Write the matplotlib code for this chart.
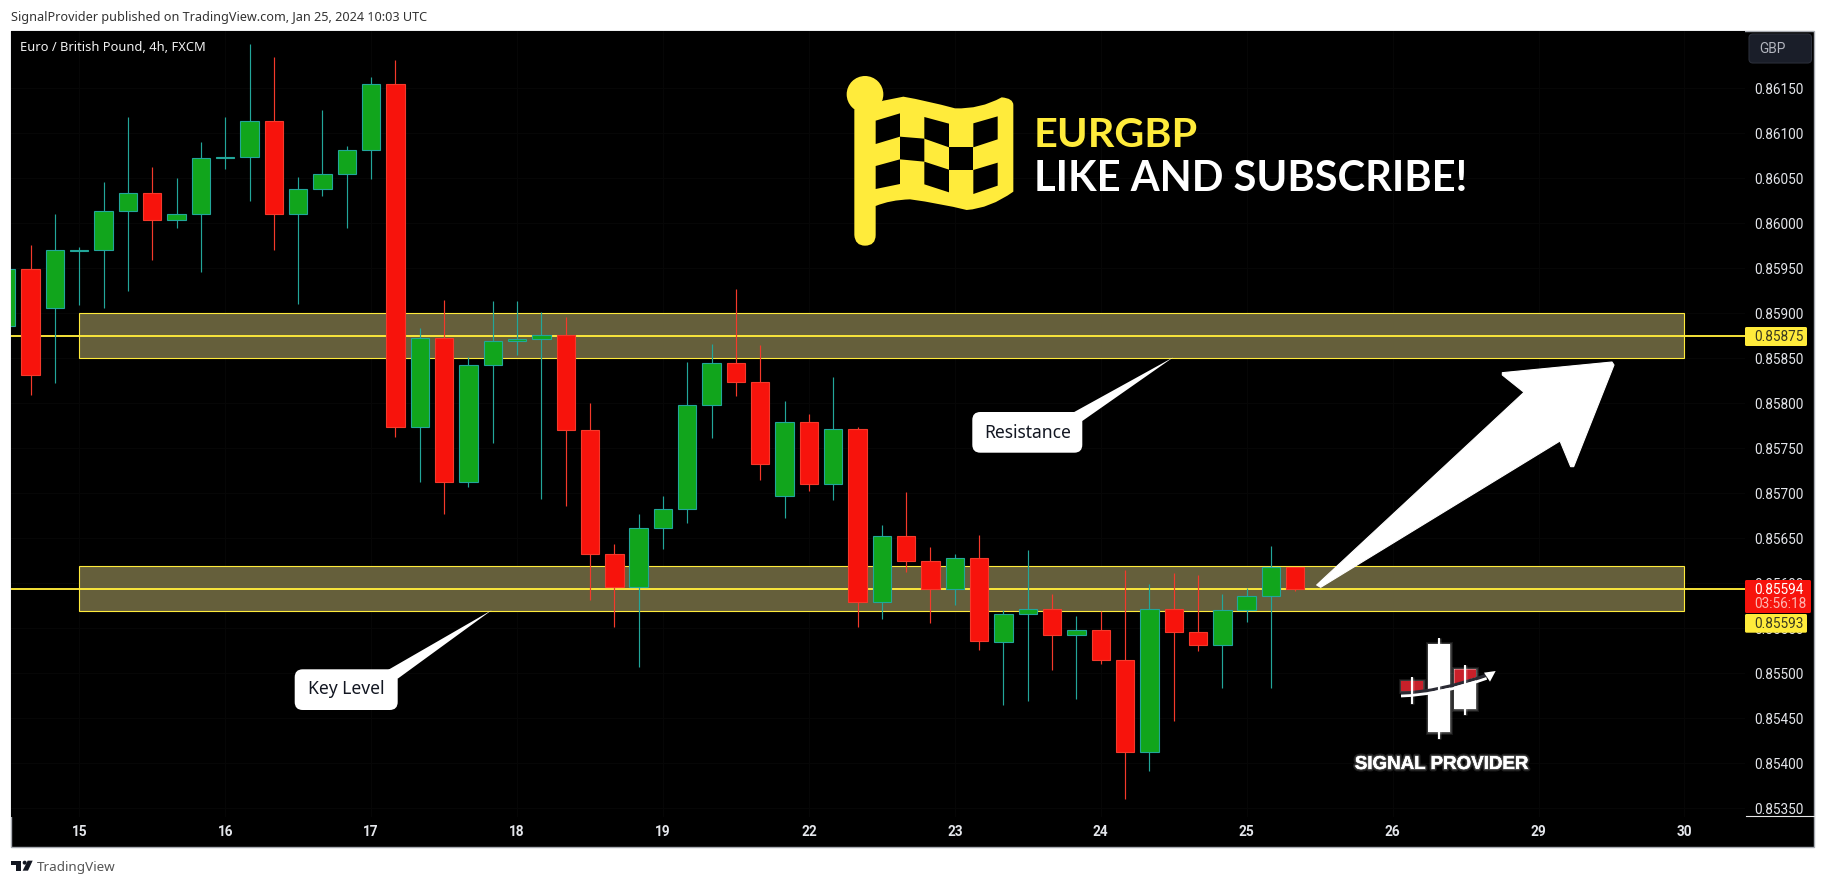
import matplotlib
matplotlib.use("Agg")
import matplotlib.pyplot as plt
import matplotlib.patheffects as pe
from matplotlib.patches import Polygon, Rectangle, FancyBboxPatch, Circle, PathPatch
from matplotlib.path import Path

# ---------- data (prices) ----------
opens = [.85886,.85949,.85906,.85969,.85970,.86013,.86034,.86004,.86010,.86072,.86074,.86113,.86010,.86038,.86055,.86081,.86155,
         .85774,.85873,.85712,.85843,.85869,.85871,.85876,.85770,.85633,.85596,.85661,.85682,.85798,.85845,.85824,.85697,.85779,.85710,.85771,.85579,.85653,.85625,.85594,.85628,
         .85535,.85566,.85572,.85543,.85548,.85515,.85413,.85572,.85546,.85531,.85570,.85586,.85618]
highs = [.85953,.85976,.86010,.85974,.86046,.86118,.86062,.86050,.86090,.86118,.86199,.86185,.86051,.86126,.86086,.86162,.86181,
         .85884,.85915,.85851,.85914,.85914,.85901,.85896,.85800,.85644,.85677,.85697,.85846,.85866,.85927,.85865,.85802,.85788,.85829,.85774,.85665,.85701,.85640,.85633,.85654,
         .85570,.85637,.85588,.85564,.85569,.85615,.85599,.85611,.85609,.85588,.85595,.85641,.85618]
lows = [.85880,.85809,.85823,.85909,.85906,.85925,.85959,.85995,.85946,.86060,.86025,.85970,.85910,.86030,.85995,.86049,.85762,
        .85712,.85677,.85707,.85756,.85854,.85694,.85686,.85582,.85552,.85507,.85638,.85667,.85761,.85808,.85715,.85672,.85703,.85692,.85551,.85560,.85613,.85556,.85576,.85526,
        .85465,.85469,.85504,.85472,.85510,.85361,.85392,.85447,.85525,.85484,.85557,.85484,.85592]
closes = [.85949,.85831,.85970,.85970,.86013,.86034,.86004,.86010,.86072,.86074,.86113,.86010,.86038,.86055,.86081,.86155,.85774,
          .85873,.85712,.85843,.85869,.85871,.85876,.85770,.85633,.85596,.85661,.85682,.85798,.85845,.85824,.85732,.85779,.85710,.85771,.85579,.85653,.85625,.85594,.85628,.85536,
          .85566,.85572,.85543,.85548,.85515,.85413,.85572,.85546,.85531,.85570,.85586,.85618,.85594]
day_ticks = [3, 9, 15, 21, 27, 33, 39, 45, 51, 57, 63, 69]
day_labels = ["15", "16", "17", "18", "19", "22", "23", "24", "25", "26", "29", "30"]
price_ticks = [.8535, .8540, .8545, .8550, .8555, .8560, .8565, .8570, .8575, .8580, .8585, .8590, .8595, .8600, .8605, .8610, .8615]
zone_x = (3, 69)
zones = [(.85850, .85900), (.85569, .85619)]
level_lines = [.85875, .85594]

# ---------- style ----------
W, H = 1826, 886
GREEN, RED = "#11A51C", "#F7130C"
TEAL, REDEDGE = "#22A69A", "#F5392B"
YEL = "#FFEB3B"
FLAG = "#FFEB3B"
FONT = "Noto Sans"
TICK = "Roboto"

fig = plt.figure(figsize=(W/100, H/100), dpi=100, facecolor="white")

# main chart pane
L, R, T, B = 11, 1745, 30.5, 816.7
ax = fig.add_axes([L/W, 1-B/H, (R-L)/W, (B-T)/H], facecolor="black", zorder=1)
ax.set_xlim(0.193, 71.49)
ax.set_ylim(0.853408, 0.862140)
for s in ax.spines.values():
    s.set_visible(False)

ax.set_xticks(day_ticks)
ax.set_xticklabels(day_labels, fontfamily=TICK, fontsize=9.8, fontweight="bold", color="#E4E6EB")
ax.yaxis.tick_right()
ax.set_yticks(price_ticks)
ax.set_yticklabels([f"{p:.5f}" for p in price_ticks], fontfamily=TICK, fontsize=9.8, color="#E4E6EB")
ax.tick_params(axis="x", length=0, pad=6.2)
ax.tick_params(axis="y", length=0, pad=6.6)
ax.grid(True, color="#070707", lw=0.7, zorder=0)
ax.set_axisbelow(True)

# zones + levels
for lo, hi in zones:
    ax.add_patch(Rectangle((zone_x[0], lo), zone_x[1]-zone_x[0], hi-lo, facecolor="#655F3B",
                           edgecolor=YEL, lw=0.8, zorder=1.5))
for lvl in level_lines:
    ax.axhline(lvl, color=YEL, lw=1.35, zorder=1.8)

# candles
xs = list(range(len(opens)))
for x, o, h, l, c in zip(xs, opens, highs, lows, closes):
    up = c >= o
    ax.vlines(x, l, h, color=TEAL if up else REDEDGE, lw=0.85, zorder=2)
up_x = [x for x in xs if closes[x] >= opens[x]]
dn_x = [x for x in xs if closes[x] < opens[x]]
ax.bar(up_x, [closes[x]-opens[x] for x in up_x], bottom=[opens[x] for x in up_x], width=0.755,
       color=GREEN, edgecolor=TEAL, lw=0.8, zorder=3)
ax.bar(dn_x, [opens[x]-closes[x] for x in dn_x], bottom=[closes[x] for x in dn_x], width=0.755,
       color=RED, edgecolor=REDEDGE, lw=0.8, zorder=3)

# backdrop for price/time axis area
bg = fig.add_axes([0, 0, 1, 1], zorder=0)
bg.set_xlim(0, W); bg.set_ylim(H, 0); bg.axis("off")
bg.add_patch(Rectangle((11, 30.5), 1803, 816.5, facecolor="black", edgecolor="#A8ABB2", lw=1.0))

# overlay in pixel coordinates for drawings
ov = fig.add_axes([0, 0, 1, 1], zorder=5)
ov.set_xlim(0, W); ov.set_ylim(H, 0); ov.axis("off"); ov.patch.set_alpha(0)

def conv(pts, ox, oy, sx=3.0, sy=3.0):
    return [(ox+x/sx, oy+y/sy) for x, y in pts]

# header / footer / title
ov.text(11, 17, "SignalProvider published on TradingView.com, Jan 25, 2024 10:03 UTC", fontsize=9.1,
        fontfamily=FONT, color="#333333", va="center", ha="left")
ov.text(20, 47, "Euro / British Pound, 4h, FXCM", fontsize=9.3, fontfamily=FONT, color="#F2F2F2", va="center", ha="left")
ov.text(37, 868, "TradingView", fontsize=9.7, fontfamily=FONT, color="#555555", va="center", ha="left")
ov.add_patch(Polygon(conv([(33,212),(63,212),(63,242),(48,242),(48,224),(33,224)], 0, 790), fc="#131722", ec="none"))
ov.add_patch(Circle((0+74/3, 790+218/3), 2.0, fc="#131722", ec="none"))
ov.add_patch(Polygon(conv([(98,212),(84,242),(68,242),(83,212)], 0, 790), fc="#131722", ec="none"))
ov.plot([1746, 1814], [815.5, 815.5], color="#E8E8E8", lw=0.8)

# GBP button
ov.add_patch(FancyBboxPatch((1749, 34), 62.5, 29, boxstyle="round,pad=0,rounding_size=4",
                            fc="#1A1E29", ec="#2A2E39", lw=0.8))
ov.text(1759, 48.5, "GBP", fontsize=9.8, fontfamily=TICK, color="#B2B5BE", va="center", ha="left")

# price tags
ov.add_patch(FancyBboxPatch((1745, 327), 62, 19, boxstyle="round,pad=0,rounding_size=1.5", fc=YEL, ec="none"))
ov.text(1754, 337, "0.85875", fontsize=9.8, fontfamily=TICK, color="#3A3A20", va="center", ha="left")
ov.add_patch(FancyBboxPatch((1745, 614), 62, 18.7, boxstyle="round,pad=0,rounding_size=1.5", fc=YEL, ec="none"))
ov.text(1754, 623.5, "0.85593", fontsize=9.8, fontfamily=TICK, color="#3A3A20", va="center", ha="left")
ov.add_patch(FancyBboxPatch((1745, 580), 66, 33, boxstyle="round,pad=0,rounding_size=1.5", fc="#F7130C", ec="none"))
ov.text(1754, 589.5, "0.85594", fontsize=9.8, fontfamily=TICK, color="#FFFFFF", va="center", ha="left")
ov.text(1754, 604, "03:56:18", fontsize=9.8, fontfamily=TICK, color="#FDB7B3", va="center", ha="left")

# big arrow
arrow = [(50,735),(672,157),(607,105),(607,98),(936,66),(942,75),(821,380),(812,380),(780,303),(62,742)]
ov.add_patch(Polygon(conv(arrow, 1300, 340), fc="white", ec="white", lw=0.8, joinstyle="round"))

# callouts
def callout(box, tri, label, tx, ty):
    x0, y0, x1, y1 = box
    ov.add_patch(Polygon(tri, fc="white", ec="none"))
    ov.add_patch(FancyBboxPatch((x0, y0), x1-x0, y1-y0, boxstyle="round,pad=0,rounding_size=8", fc="white", ec="none"))
    ov.text(tx, ty, label, fontsize=12.6, fontfamily=FONT, color="#131722", va="center", ha="center")

callout((972.3, 412, 1082.3, 452.7), [(1173.3, 357.3), (1073.3, 412.5), (1082.3, 421)], "Resistance", 1027.5, 432.5)
callout((294.7, 669.3, 397.7, 710), [(492, 610), (388.3, 669.8), (397.7, 678.7)], "Key Level", 346.3, 689.5)

# flag
OX, OY = 840, 70
flag_verts = [(43,118),(43,495),(45,527),(75,527),(107,527),(107,495),(107,408),
              (150,390),(210,388),(300,400),(380,420),(450,415),(520,365),(520,365),
              (520,105),(520,85),(485,82),(420,118),(345,115),(260,92),(190,80),(130,92),(43,118)]
flag_codes = [Path.MOVETO, Path.LINETO, Path.CURVE3, Path.CURVE3, Path.CURVE3, Path.CURVE3, Path.LINETO,
              Path.CURVE3, Path.CURVE3, Path.CURVE3, Path.CURVE3, Path.CURVE3, Path.CURVE3, Path.LINETO,
              Path.LINETO, Path.CURVE3, Path.CURVE3, Path.CURVE3, Path.CURVE3, Path.CURVE3, Path.CURVE3, Path.LINETO, Path.LINETO]
ov.add_patch(PathPatch(Path(conv(flag_verts, OX, OY), flag_codes), fc=FLAG, ec="none"))
ov.add_patch(Circle((OX+75/3, OY+73/3), 55/3, fc=FLAG, ec="none"))
squares = [
    [(107,152),(180,130),(180,200),(107,222)],
    [(253,141),(327,161),(327,232),(253,206)],
    [(400,160),(473,139),(473,208),(400,232)],
    [(180,200),(253,206),(253,275),(180,268)],
    [(327,232),(400,232),(400,300),(327,300)],
    [(107,288),(180,268),(180,342),(107,357)],
    [(253,275),(327,299),(327,367),(253,343)],
    [(400,300),(473,278),(473,347),(400,372)],
]
for sq in squares:
    ov.add_patch(Polygon(conv(sq, OX, OY), fc="black", ec="none"))

ov.text(1034, 147, "EURGBP", fontsize=29.8, fontfamily="Lato", fontweight="bold", color="#FFEB3B", va="baseline", ha="left")
ov.text(1034, 191, "LIKE AND SUBSCRIBE!", fontsize=30, fontfamily="Lato", fontweight="bold", color="white", va="baseline", ha="left")

# Signal Provider logo
SX, SY = 1330, 620
glow = [pe.withStroke(linewidth=3.5, foreground="#FFFFFF", alpha=0.10), pe.withStroke(linewidth=1.8, foreground="#FFFFFF", alpha=0.18), pe.Normal()]
def srect(x0, y0, x1, y1, fc):
    p = Rectangle((SX+x0/3, SY+y0/3), (x1-x0)/3, (y1-y0)/3, fc=fc, ec="none")
    p.set_path_effects(glow)
    ov.add_patch(p)
def swick(x, y0, y1):
    l, = ov.plot([SX+x/3, SX+x/3], [SY+y0/3, SY+y1/3], color="white", lw=1.1, solid_capstyle="butt")
    l.set_path_effects(glow)
swick(326, 55, 358); swick(246, 170, 253); swick(405, 135, 285)
srect(293, 72, 360, 335, "white")
srect(373, 148, 438, 268, "white")
srect(213, 183, 280, 213, "#C8202A")
ov.add_patch(Polygon(conv([(373,148),(438,148),(438,172),(373,192)], SX, SY), fc="#C8202A", ec="none"))
arc = [(213,228),(330,225),(470,175)]
arc_up = [(213,220),(330,215),(470,165)]
ov.add_patch(PathPatch(Path(conv(arc_up, SX, SY), [Path.MOVETO, Path.CURVE3, Path.CURVE3]), fc="none", ec="#2A2A33", lw=2.2))
ov.add_patch(PathPatch(Path(conv(arc, SX, SY), [Path.MOVETO, Path.CURVE3, Path.CURVE3]), fc="none", ec="white", lw=2.0))
ov.add_patch(Polygon(conv([(462,158),(497,153),(480,185)], SX, SY), fc="white", ec="none"))
t = ov.text(1441.5, 764.5, "SIGNAL PROVIDER", fontsize=13.5, fontfamily="Liberation Sans", fontweight="bold",
            color="white", va="center", ha="center")
t.set_path_effects([pe.withStroke(linewidth=3.5, foreground="#FFFFFF", alpha=0.12),
                    pe.withStroke(linewidth=1.6, foreground="#FFFFFF", alpha=0.2), pe.Normal()])

fig.savefig("out.png", dpi=100, facecolor="white")
